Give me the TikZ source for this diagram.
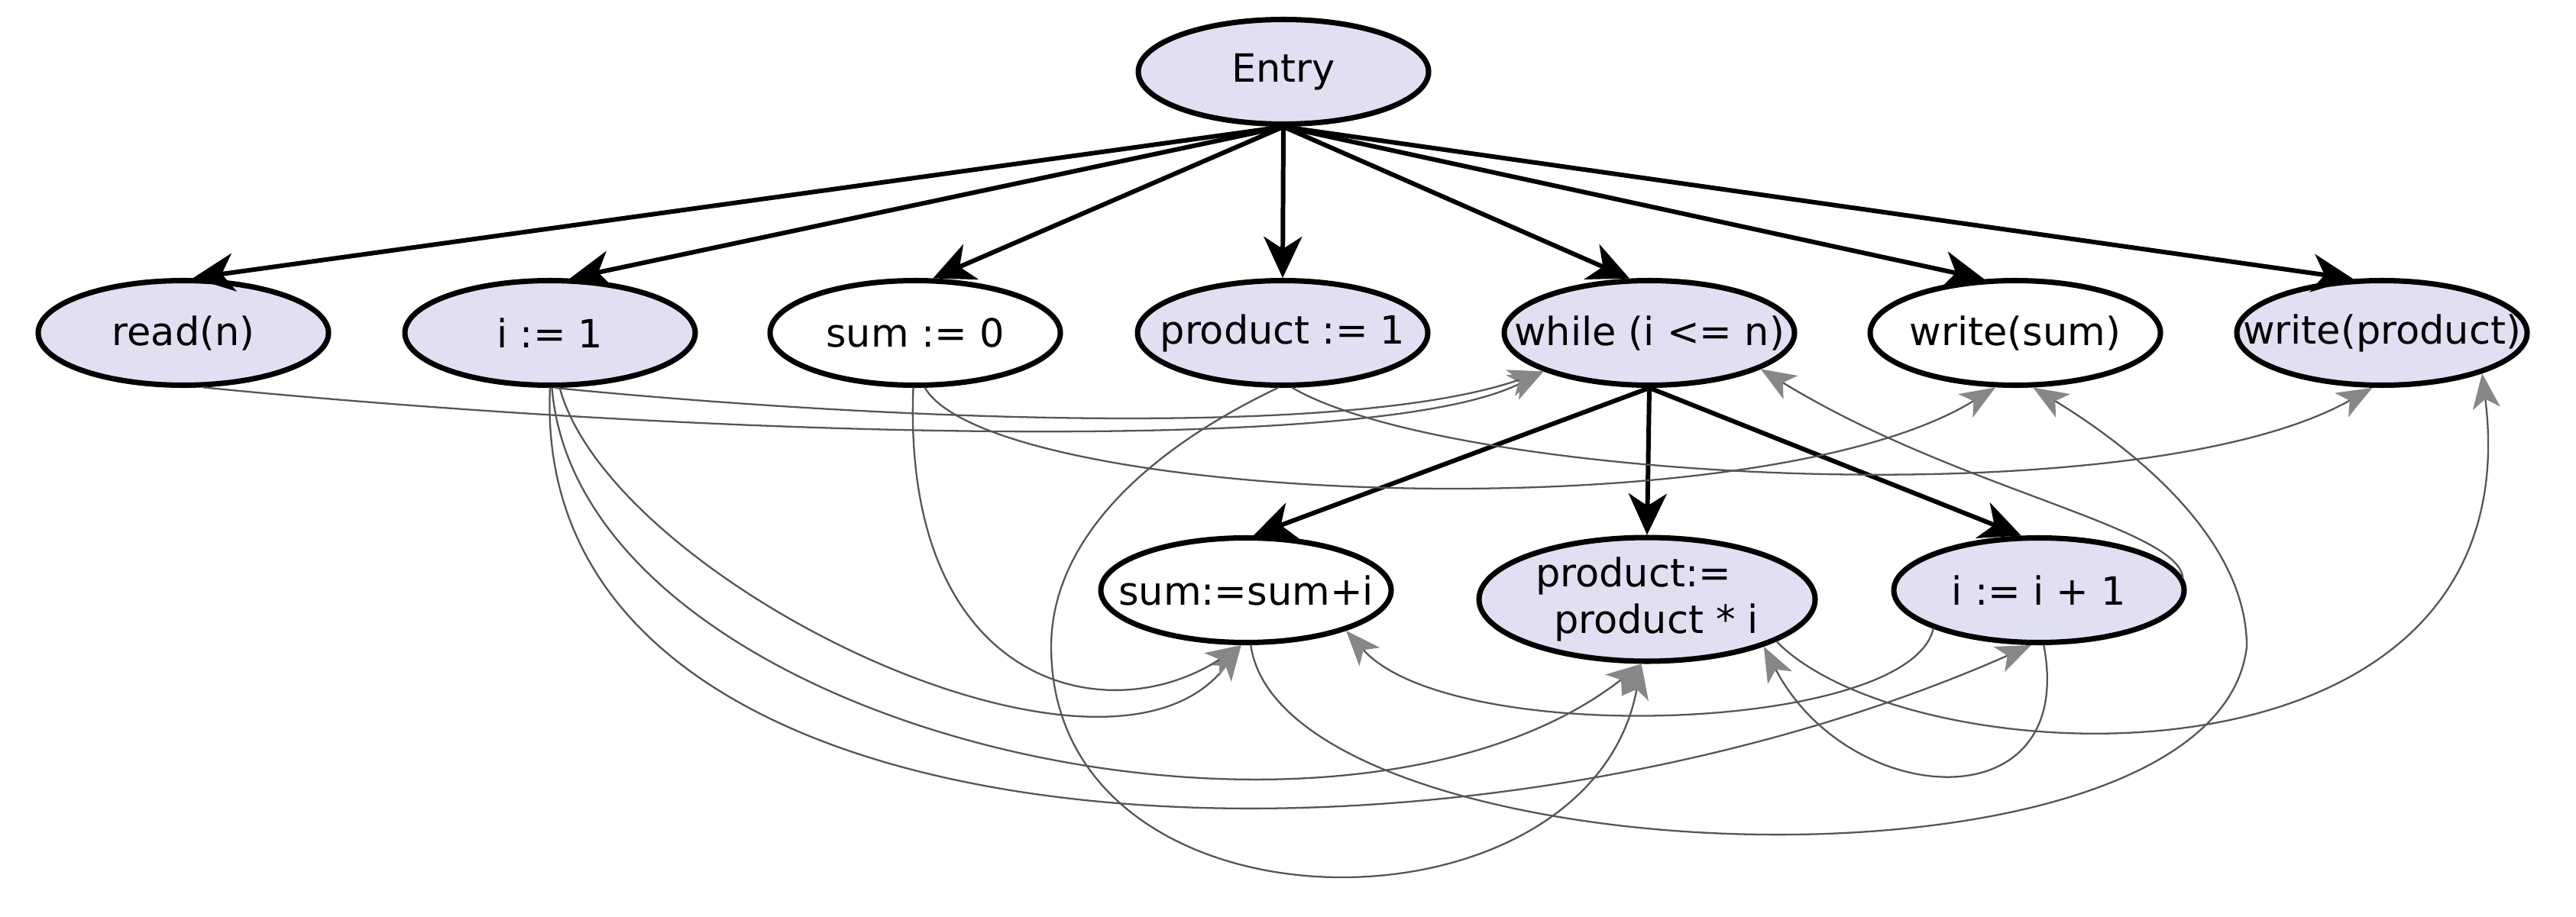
\documentclass[tikz,border=0pt]{standalone}
\usepackage{fontspec}
\setmainfont{DejaVu Sans}
\usetikzlibrary{arrows.meta,shapes.geometric}
\definecolor{stmtfill}{RGB}{224,224,242}
\definecolor{depgray}{RGB}{85,85,85}
\definecolor{tipgray}{RGB}{135,135,135}

\begin{document}
\begin{tikzpicture}[x=1cm,y=1cm,line cap=round,line join=round]
    % styles
    \tikzstyle{stmt}=[ellipse,draw=black,line width=2pt,fill=stmtfill,minimum width=3.8cm,minimum height=1.37cm,inner xsep=-5mm,inner ysep=0pt,font=\fontsize{14.5}{17.5}\selectfont]
    \tikzstyle{stmtw}=[stmt,fill=white]
    \tikzstyle{ctrl}=[line width=1.7pt,-{Stealth[length=5.4mm,width=5mm,inset=1.6mm]}]
    \tikzstyle{dep}=[depgray,line width=0.65pt,-{Stealth[length=4.6mm,width=3.6mm,inset=1.2mm,color=tipgray]}]

    \useasboundingbox (0,0) rectangle (33.72,12);

    % ----------------------------------------------------
    % statements
    % ----------------------------------------------------
    \node[stmt] (entry) at (16.80,11.06) {Entry};
    \node[stmt] (readn) at (2.40,7.64) {read(n)};
    \node[stmt] (i1) at (7.20,7.64) {i := 1};
    \node[stmtw] (sum0) at (11.98,7.64) {sum := 0};
    \node[stmt] (prod1) at (16.79,7.64) {product := 1};
    \node[stmt] (loop) at (21.59,7.64) {while (i <= n)};
    \node[stmtw] (wsum) at (26.38,7.64) {write(sum)};
    \node[stmt] (wprod) at (31.18,7.64) {write(product)};
    \node[stmtw] (sumi) at (16.31,4.27) {sum:=sum+i};
    \node[stmt,minimum width=4.4cm,minimum height=1.62cm,align=left] (prodi) at (21.56,4.15) {product:=\\\hspace*{0.24cm}product * i};
    \node[stmt] (incr) at (26.69,4.27) {i := i + 1};

    % ----------------------------------------------------
    % control dependences
    % ----------------------------------------------------
    \draw[ctrl] (entry.south) -- (readn.80);
    \draw[ctrl] (entry.south) -- (i1.70);
    \draw[ctrl] (entry.south) -- (sum0.72);
    \draw[ctrl] (entry.south) -- (prod1.north);
    \draw[ctrl] (entry.south) -- (loop.110);
    \draw[ctrl] (entry.south) -- (wsum.120);
    \draw[ctrl] (entry.south) -- (wprod.118);
    \draw[ctrl] (loop.south) -- (sumi.82);
    \draw[ctrl] (loop.south) -- (prodi.north);
    \draw[ctrl] (loop.south) -- (incr.108);

    % ----------------------------------------------------
    % data dependences
    % ----------------------------------------------------
    \draw[dep] (readn.-70) .. controls (9.00,6.30) and (18.00,6.00) .. (loop.200);
    \draw[dep] (i1.-85) .. controls (11.00,6.55) and (17.50,6.20) .. (loop.200);
    \draw[dep] (i1.-80) .. controls (8.00,4.40) and (14.50,1.20) .. (sumi.265);
    \draw[dep] (i1.-88) .. controls (7.60,2.40) and (17.50,0.20) .. (prodi.265);
    \draw[dep] (i1.-90) .. controls (6.90,0.50) and (19.00,0.20) .. (incr.262);
    \draw[dep] (sum0.-92) .. controls (11.80,3.00) and (14.50,2.40) .. (sumi.265);
    \draw[dep] (sum0.-80) .. controls (13.00,5.40) and (23.00,5.00) .. (wsum.250);
    \draw[dep] (prod1.-95) .. controls (14.80,6.00) and (13.76,4.80) .. (13.76,3.53)
       .. controls (13.76,-0.40) and (20.80,-0.40) .. (prodi.265);
    \draw[dep] (prod1.-80) .. controls (19.00,5.70) and (28.00,5.20) .. (wprod.260);
    \draw[dep] (sumi.-85) .. controls (16.80,0.50) and (29.00,0.00) .. (29.41,3.53)
       .. controls (29.41,5.00) and (27.80,6.20) .. (wsum.-72);
    \draw[dep] (prodi.-18) .. controls (25.00,1.80) and (33.20,1.40) .. (wprod.-22);
    \draw[dep] (incr.5) .. controls (28.50,5.10) and (25.60,5.60) .. (loop.-18);
    \draw[dep] (incr.200) .. controls (25.00,2.40) and (19.00,2.20) .. (sumi.-22);
    \draw[dep] (incr.-85) .. controls (27.20,1.20) and (24.20,1.40) .. (prodi.-22);
\end{tikzpicture}
\end{document}
